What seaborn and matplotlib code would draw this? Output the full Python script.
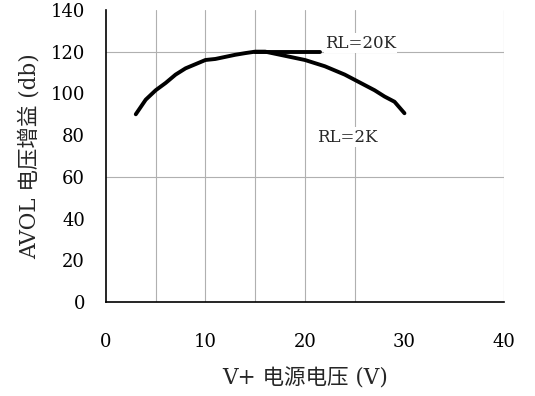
import matplotlib
matplotlib.use("Agg")
import matplotlib.pyplot as plt
import numpy as np
import pandas as pd
import seaborn as sns

# 데이터 - 그림에서 읽은 값
v_2k = [3, 4, 5, 6, 7, 8, 9, 10, 11, 12, 13, 14, 15, 16, 17, 18, 19, 20,
        21, 22, 23, 24, 25, 26, 27, 28, 29, 30]
gain_2k = [90, 97, 101.5, 105, 109, 112, 114, 116, 116.5, 117.5, 118.5, 119.3, 120, 120,
           119, 118, 117, 116, 114.5, 113, 111, 109, 106.5, 104, 101.5, 98.5, 96, 90.5]
v_20k = [15, 21.5]
gain_20k = [120, 120]

x_ticks = [0, 10, 20, 30, 40]
y_ticks = [0, 20, 40, 60, 80, 100, 120, 140]
x_grid = [5, 10, 15, 20, 25, 40]
y_grid = [60, 120]

df_2k = pd.DataFrame({"v": v_2k, "gain": gain_2k})
df_20k = pd.DataFrame({"v": v_20k, "gain": gain_20k})

sns.set_style("white")
plt.rcParams["font.family"] = ["DejaVu Serif", "Noto Sans CJK SC"]

fig = plt.figure(figsize=(5.35, 3.96), dpi=100)
ax = fig.add_axes([0.198, 0.237, 0.744, 0.738])

# 격자선
for x in x_grid:
    ax.axvline(x, color="#b0b0b0", lw=0.8, zorder=0)
for y in y_grid:
    ax.axhline(y, color="#b0b0b0", lw=0.8, zorder=0)

sns.lineplot(data=df_2k, x="v", y="gain", color="black", lw=2.8, ax=ax)
sns.lineplot(data=df_20k, x="v", y="gain", color="black", lw=2.8, ax=ax)

ax.text(22.0, 124, "RL=20K", fontsize=12, va="center", ha="left",
        bbox=dict(facecolor="white", edgecolor="none", pad=1))
ax.text(21.2, 79, "RL=2K", fontsize=12, va="center", ha="left",
        bbox=dict(facecolor="white", edgecolor="none", pad=1))

ax.set_xlim(0, 40)
ax.set_ylim(0, 140)
ax.set_xticks(x_ticks)
ax.set_yticks(y_ticks)
ax.tick_params(direction="in", length=5, width=1, labelsize=13, colors="black")
ax.tick_params(axis="y", pad=15)
ax.tick_params(axis="x", pad=22)

for s in ["top", "right"]:
    ax.spines[s].set_visible(False)
for s in ["left", "bottom"]:
    ax.spines[s].set_color("black")
    ax.spines[s].set_linewidth(1.2)

ax.set_xlabel("V+ 电源电压 (V)", fontsize=15.5, labelpad=12)
ax.set_ylabel("AVOL 电压增益 (db)", fontsize=15.5, labelpad=7)

fig.savefig("out.png", dpi=100)
